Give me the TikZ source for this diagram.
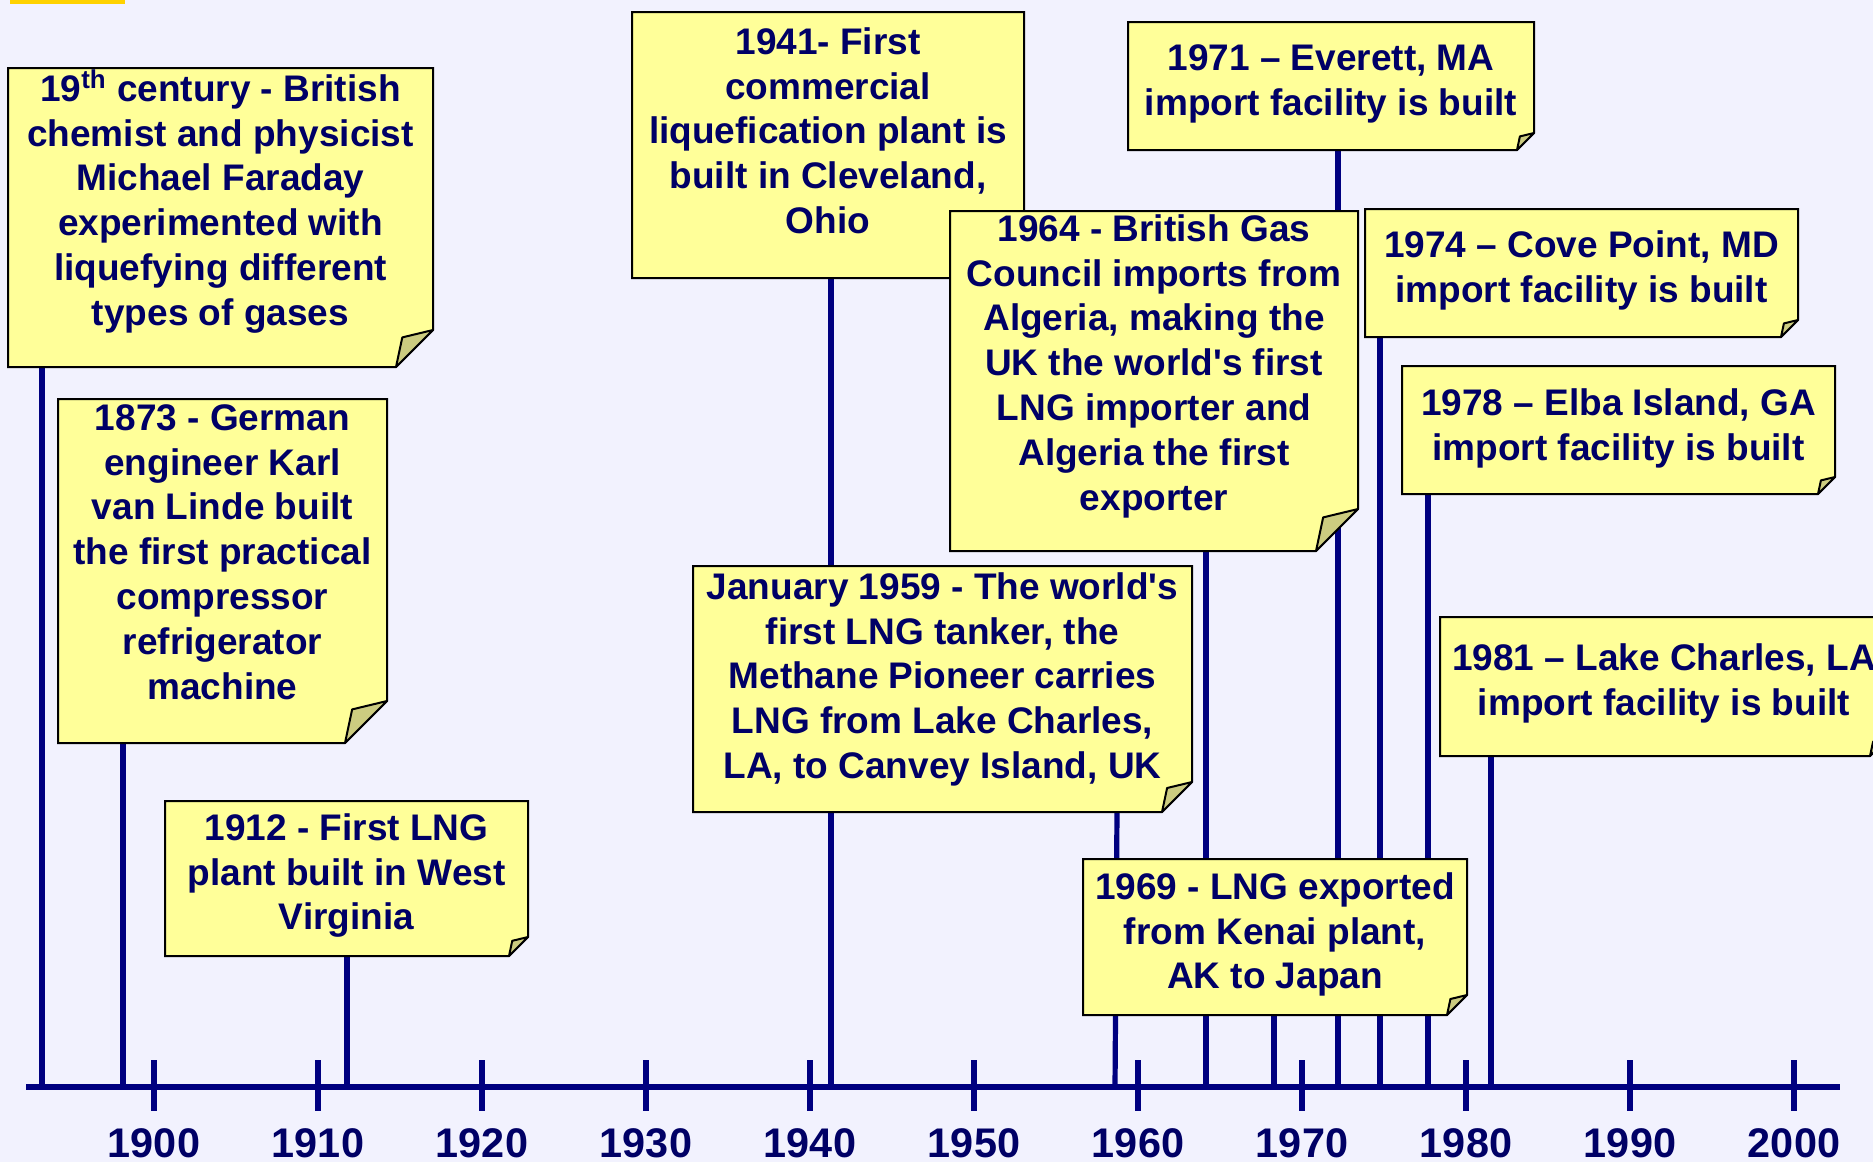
\documentclass[tikz,border=0pt]{standalone}
\usepackage{fontspec}
\setmainfont{Liberation Sans}
\definecolor{bg}{HTML}{F2F2FE}
\definecolor{navy}{HTML}{000080}
\definecolor{ink}{HTML}{000066}
\definecolor{note}{HTML}{FFFF99}
\definecolor{foldc}{HTML}{CCCC80}
\definecolor{gold}{HTML}{FFD200}
\tikzset{
  boxline/.style={fill=note, draw=black, line width=1pt, line join=miter},
  foldline/.style={fill=foldc, draw=black, line width=1pt, line join=round},
  boxtext/.style={anchor=north, inner sep=0pt, align=center, text=ink,
    font=\fontsize{18.5}{22.4}\selectfont\bfseries},
  conn/.style={draw=navy, line width=2.6pt},
  axisline/.style={draw=navy, line width=3.2pt},
  tickline/.style={draw=navy, line width=3pt},
  yearlbl/.style={anchor=base, inner sep=0pt, text=ink,
    font=\fontsize{20.7}{24}\selectfont\bfseries},
}
% name, L, T, R, B, fold, cap top, text
\newcommand\notebox[8]{%
  \filldraw[boxline] (#2,#3) -- (#4,#3) -- (#4,{#5-#6}) -- ({#4-#6},#5) -- (#2,#5) -- cycle;
  \filldraw[foldline] ({#4-#6},#5) -- ({#4-0.83*#6},{#5-0.8*#6}) -- (#4,{#5-#6}) -- cycle;
  \node[boxtext] (#1) at ({(#2+#4)/2},#7) {#8};
}
\begin{document}
\begin{tikzpicture}[x=0.5pt,y=-0.5pt]
\useasboundingbox (0,0) rectangle (1873,1162);
\fill[bg] (0,0) rectangle (1873,1162);
\fill[gold] (10,0) rectangle (125,3.5);

% connector end points
\coordinate (t1) at (42,367);   \coordinate (a1) at (42,1087);
\coordinate (t2) at (123,743);  \coordinate (a2) at (123,1087);
\coordinate (t3) at (347,956);  \coordinate (a3) at (347,1087);
\coordinate (t4) at (831,278);  \coordinate (a4) at (831,1087);
\coordinate (t5) at (1117,812); \coordinate (a5) at (1115,1087);
\coordinate (t6) at (1206,551); \coordinate (a6) at (1206,1087);
\coordinate (t7) at (1274,1015);\coordinate (a7) at (1274,1087);
\coordinate (t8) at (1338,150); \coordinate (a8) at (1338,1087);
\coordinate (t9) at (1380,337); \coordinate (a9) at (1380,1087);
\coordinate (t10) at (1428,494);\coordinate (a10) at (1428,1087);
\coordinate (t11) at (1491,756);\coordinate (a11) at (1491,1087);
\foreach \k in {1,...,11} { \draw[conn] (t\k) -- (a\k); }

% axis
\coordinate (axL) at (26,1087);
\coordinate (axR) at (1840,1087);
\draw[axisline] (axL) -- (axR);
\foreach \yr [count=\i from 0] in {1900,1910,...,2000} {
  \draw[tickline] ({154+164*\i},1060) -- ({154+164*\i},1111);
  \node[yearlbl] (y\yr) at ({154+164*\i},1157) {\yr};
}

% notes
\notebox{n4}{632}{12}{1024}{278}{30}{27}{1941- First\\commercial\\liquefication plant is\\built in Cleveland,\\Ohio}
\notebox{n1}{8}{68}{433}{367}{37}{74}{19\smash{\textsuperscript{th}} century - British\\chemist and physicist\\Michael Faraday\\experimented with\\liquefying different\\types of gases}
\notebox{n2}{58}{399}{387}{743}{42}{404}{1873 - German\\engineer Karl\\van Linde built\\the first practical\\compressor\\refrigerator\\machine}
\notebox{n3}{165}{801}{528}{956}{19}{813}{1912 - First LNG\\plant built in West\\Virginia}
\notebox{n5}{693}{566}{1192}{812}{30}{572}{January 1959 - The world\textquotesingle s\\first LNG tanker, the\\Methane Pioneer carries\\LNG from Lake Charles,\\LA, to Canvey Island, UK}
\notebox{n6}{950}{211}{1358}{551}{42}{214}{1964 - British Gas\\Council imports from\\Algeria, making the\\UK the world\textquotesingle s first\\LNG importer and\\Algeria the first\\exporter}
\notebox{n7}{1083}{859}{1467}{1015}{20}{872}{1969 - LNG exported\\from Kenai plant,\\AK to Japan}
\notebox{n8}{1128}{22}{1534}{150}{17}{44}{1971 – Everett, MA\\import facility is built}
\notebox{n9}{1365}{209}{1798}{337}{17}{230}{1974 – Cove Point, MD\\import facility is built}
\notebox{n10}{1402}{366}{1835}{494}{17}{388}{1978 – Elba Island, GA\\import facility is built}
\notebox{n11}{1440}{617}{1888}{756}{18}{643}{1981 – Lake Charles, LA\\import facility is built}
\end{tikzpicture}
\end{document}
